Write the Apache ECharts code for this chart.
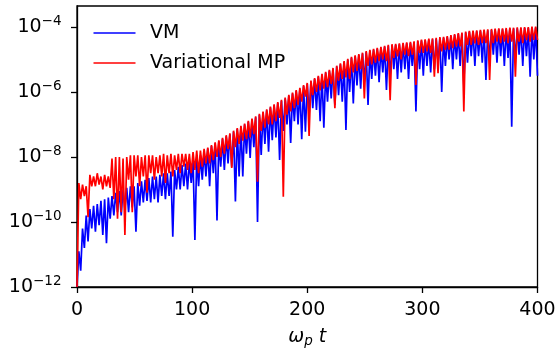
<!DOCTYPE html>
<html><head><meta charset="utf-8">
<script src="https://cdn.jsdelivr.net/npm/echarts@6/dist/echarts.min.js"></script>
<style>html,body{margin:0;padding:0;background:#fff}#c{width:559px;height:349px}</style>
</head><body><div id="c"></div>
<script>
// sampling step of the time grid (omega_p t units)
const tStep = 1.6;
const xTicks = [0, 100, 200, 300, 400];
const yTicks = [1e-12, 1e-10, 1e-8, 1e-6, 1e-4];
const seriesNames = ['VM', 'Variational MP'];
// values, stored as log10 exponents (one per sample)
const vmLog10 = [
-12,-10.9,-11.5,-10.2,-10.8,-9.8,-10.6,-9.6,-10.2,-9.5,
-10.3,-9.45,-10.1,-9.35,-10.4,-9.3,-10.65,-9.25,-9.9,-9.2,
-9.8,-9.1,-9.7,-9.05,-9.8,-9.0,-9.6,-8.95,-9.7,-8.9,
-9.55,-8.9,-10.3,-8.8,-9.5,-8.75,-9.4,-8.7,-9.35,-8.65,
-9.4,-8.6,-9.3,-8.6,-9.4,-8.55,-9.2,-8.5,-9.3,-8.5,
-9.2,-8.45,-10.45,-8.4,-9.0,-8.3,-9.0,-8.25,-8.9,-8.2,
-9.0,-8.15,-8.8,-8.1,-10.55,-8.0,-8.9,-7.95,-8.7,-7.85,
-8.6,-7.74,-8.9,-7.66,-8.5,-7.58,-9.95,-7.52,-8.3,-7.44,
-8.4,-7.36,-8.2,-7.3,-8.3,-7.22,-9.37,-7.14,-8.6,-7.07,
-8.6,-7.0,-7.9,-6.92,-8.03,-6.85,-7.7,-6.78,-10.0,-6.7,
-7.94,-6.63,-7.6,-6.56,-7.84,-6.48,-7.48,-6.41,-7.4,-6.34,
-8.09,-6.27,-7.2,-6.2,-7.0,-6.12,-7.57,-6.05,-6.9,-5.97,
-7.0,-5.9,-7.45,-5.82,-7.22,-5.75,-6.7,-5.68,-6.5,-5.6,
-6.55,-5.53,-6.9,-5.47,-7.1,-5.41,-6.3,-5.35,-6.2,-5.29,
-6.4,-5.22,-6.1,-5.15,-6.3,-5.08,-7.17,-5.01,-6.0,-4.95,
-6.35,-4.9,-5.8,-4.86,-5.9,-4.82,-5.7,-4.77,-6.4,-4.73,
-5.6,-4.7,-5.5,-4.67,-5.7,-4.64,-5.4,-4.61,-5.94,-4.58,
-5.5,-4.56,-5.3,-4.55,-5.6,-4.53,-5.4,-4.52,-5.3,-4.5,
-5.6,-4.49,-5.2,-4.47,-6.6,-4.44,-5.3,-4.42,-5.5,-4.41,
-5.2,-4.39,-5.4,-4.38,-5.3,-4.36,-5.1,-4.34,-6.0,-4.33,
-5.2,-4.31,-5.0,-4.28,-5.3,-4.25,-5.0,-4.22,-5.2,-4.2,
-5.78,-4.17,-5.1,-4.15,-4.9,-4.14,-5.2,-4.13,-4.9,-4.12,
-5.1,-4.11,-5.63,-4.1,-5.0,-4.09,-4.85,-4.08,-5.1,-4.07,
-4.9,-4.07,-5.2,-4.06,-4.95,-4.05,-7.07,-4.05,-5.0,-4.04,
-4.85,-4.04,-5.2,-4.03,-4.9,-4.03,-5.53,-4.02,-5.0,-4.02,
-5.5
];
const mpLog10 = [
-12,-8.8,-9.3,-8.85,-9.2,-8.9,-9.85,-8.55,-8.9,-8.6,
-8.9,-8.5,-8.85,-8.6,-9.0,-8.55,-8.9,-8.6,-8.95,-8.05,
-9.3,-8.0,-9.9,-8.0,-9.7,-8.05,-10.4,-8.0,-8.7,-7.95,
-9.7,-7.95,-8.6,-7.95,-8.9,-8.0,-8.6,-7.95,-9.1,-7.95,
-8.5,-7.95,-8.7,-8.0,-8.5,-7.95,-8.6,-7.9,-8.8,-7.95,
-8.5,-7.9,-8.6,-7.95,-8.4,-7.9,-8.5,-7.9,-8.3,-7.9,
-8.4,-7.9,-8.5,-7.85,-8.4,-7.8,-8.5,-7.8,-8.3,-7.75,
-8.2,-7.71,-8.2,-7.63,-8.1,-7.55,-8.0,-7.49,-8.0,-7.41,
-7.9,-7.33,-7.75,-7.27,-8.34,-7.19,-7.7,-7.11,-7.6,-7.04,
-7.5,-6.97,-7.45,-6.89,-7.4,-6.82,-7.3,-6.75,-8.76,-6.67,
-7.2,-6.6,-7.1,-6.53,-7.0,-6.45,-7.0,-6.38,-6.9,-6.31,
-6.8,-6.24,-9.22,-6.17,-6.7,-6.09,-6.6,-6.02,-6.5,-5.94,
-6.4,-5.87,-6.3,-5.79,-6.14,-5.72,-7.35,-5.65,-6.1,-5.57,
-6.0,-5.5,-5.95,-5.44,-5.9,-5.38,-5.85,-5.32,-5.75,-5.26,
-6.5,-5.19,-5.65,-5.12,-5.6,-5.05,-5.55,-4.98,-5.6,-4.92,
-5.4,-4.87,-5.35,-4.83,-5.3,-4.79,-6.2,-4.74,-5.2,-4.7,
-5.15,-4.67,-5.1,-4.64,-5.05,-4.61,-5.0,-4.58,-5.05,-4.55,
-6.25,-4.53,-4.95,-4.52,-4.9,-4.5,-5.0,-4.49,-4.85,-4.47,
-4.9,-4.46,-4.85,-4.44,-5.78,-4.41,-4.8,-4.39,-4.8,-4.38,
-4.75,-4.36,-4.8,-4.35,-5.53,-4.33,-5.42,-4.31,-4.75,-4.3,
-4.7,-4.28,-4.7,-4.25,-4.65,-4.22,-4.6,-4.19,-4.6,-4.17,
-6.6,-4.14,-4.55,-4.12,-4.55,-4.11,-4.5,-4.1,-4.55,-4.09,
-4.5,-4.08,-4.5,-4.07,-5.63,-4.06,-4.5,-4.05,-4.45,-4.04,
-4.5,-4.04,-4.45,-4.03,-4.5,-4.02,-4.45,-4.02,-5.53,-4.01,
-4.45,-4.01,-4.5,-4.0,-4.4,-4.0,-4.45,-3.99,-4.4,-3.99,
-4.4
];

const toData = arr => arr.map((e, i) => [i * tStep, Math.pow(10, e)]);
const FONT = 'DejaVu Sans';
const FS = 19;
const chart = echarts.init(document.getElementById('c'), null, {renderer: 'canvas'});
chart.setOption({
  animation: false,
  backgroundColor: '#fff',
  grid: {left: 77, right: 21.5, top: 6, bottom: 62, outerBoundsMode: 'none', containLabel: false,
         show: true, borderColor: '#000', borderWidth: 1.3, backgroundColor: 'transparent'},
  legend: {
    orient: 'vertical', left: 93.5, top: 23, itemWidth: 42, itemHeight: 1.6, itemGap: 10,
    icon: 'rect', selectedMode: false, padding: 0,
    textStyle: {fontFamily: FONT, fontSize: FS, color: '#000', lineHeight: 20, padding: [0, 0, 0, 9.5]},
    data: seriesNames.map(n => ({name: n}))
  },
  xAxis: {
    type: 'value', min: xTicks[0], max: xTicks[xTicks.length - 1], interval: 100,
    axisLine: {lineStyle: {color: '#000', width: 1.3}},
    axisTick: {length: 6, lineStyle: {color: '#000', width: 1.3}},
    splitLine: {show: false},
    axisLabel: {fontFamily: FONT, fontSize: FS, color: '#000', margin: 14},
    name: '{a|ω}{s|p}{a| t}', nameLocation: 'middle', nameGap: 40,
    nameTextStyle: {
      rich: {
        a: {fontFamily: FONT, fontSize: FS, fontStyle: 'italic', color: '#000', lineHeight: 20},
        s: {fontFamily: FONT, fontSize: 13.5, fontStyle: 'italic', color: '#000', lineHeight: 13, padding: [9, 0, 0, 0]}
      }
    }
  },
  yAxis: {
    type: 'log', logBase: 10, min: 1e-12, max: 4.43e-4,
    axisLine: {show: true, lineStyle: {color: '#000', width: 1.3}},
    axisTick: {show: true, length: 6, lineStyle: {color: '#000', width: 1.3}, customValues: yTicks},
    splitLine: {show: false},
    minorTick: {show: false},
    axisLabel: {
      customValues: yTicks, margin: 15.5,
      formatter: v => '{b|10}{s|−' + Math.abs(Math.round(Math.log10(v))) + '}',
      rich: {
        b: {fontFamily: FONT, fontSize: FS, color: '#000'},
        s: {fontFamily: FONT, fontSize: 13.5, color: '#000', padding: [0, 0, 12, 0]}
      }
    }
  },
  series: [
    {name: seriesNames[0], type: 'line', data: toData(vmLog10), showSymbol: false, symbol: 'none',
     lineStyle: {color: '#0000ff', width: 1.7}, itemStyle: {color: '#0000ff'}, z: 2},
    {name: seriesNames[1], type: 'line', data: toData(mpLog10), showSymbol: false, symbol: 'none',
     lineStyle: {color: '#ff0000', width: 1.7}, itemStyle: {color: '#ff0000'}, z: 3}
  ]
});
</script></body></html>
